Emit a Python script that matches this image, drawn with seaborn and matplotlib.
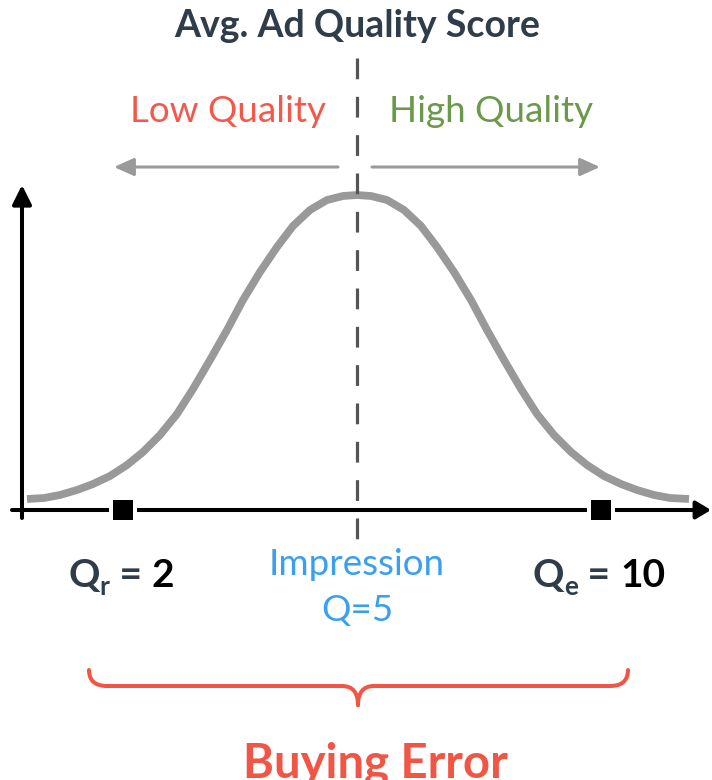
import matplotlib
matplotlib.use("Agg")
import matplotlib.pyplot as plt
from matplotlib.path import Path
from matplotlib.patches import PathPatch
import seaborn as sns

# bell curve: position along the quality axis, height above it
curve_x = [27, 44, 60, 77, 93, 110, 127, 143, 160, 177, 193, 210, 227, 243, 260,
           277, 293, 310, 327, 343, 357, 371, 387, 404, 421, 437, 454, 471, 487,
           504, 521, 537, 554, 571, 587, 604, 621, 637, 654, 670, 689]
curve_h = [11, 12, 15, 20, 26, 34, 45, 58, 75, 96, 121, 150, 180, 210, 238,
           263, 284, 300, 310, 314, 315, 314, 310, 300, 284, 263, 238, 210, 180,
           150, 121, 96, 75, 58, 45, 34, 26, 20, 15, 12, 11]

# quality points marked on the axis
point_x = [123, 601]
point_sub = ["r", "e"]
point_value = ["2", "10"]

impression_x = 357
impression_label = ["Impression", "Q=5"]

title = "Avg. Ad Quality Score"
low_label = "Low Quality"
high_label = "High Quality"
error_label = "Buying Error"

DARK = "#2e3d49"
RED = "#f5574a"
BRACE = "#f05545"
GREEN = "#6a994a"
BLUE = "#3a9ff0"
GRAY = "#999999"
DASH = "#555555"

sns.set_theme(style="white")
plt.rcParams["font.family"] = ["Lato", "DejaVu Sans"]

fig = plt.figure(figsize=(7.12, 7.80), dpi=100)
ax = fig.add_axes([0, 0, 1, 1])
ax.set_xlim(0, 712)
ax.set_ylim(-270, 510)
ax.axis("off")

# axes with arrow heads
ax.annotate("", xy=(22, 325), xytext=(22, -8),
            arrowprops=dict(arrowstyle="-|>,head_length=0.58,head_width=0.29",
                            color="black", lw=2.9, shrinkA=0, shrinkB=0,
                            mutation_scale=20))
ax.annotate("", xy=(711, 0), xytext=(12, 0),
            arrowprops=dict(arrowstyle="-|>,head_length=0.45,head_width=0.27",
                            color="black", lw=2.9, shrinkA=0, shrinkB=0,
                            mutation_scale=20))

# quality direction arrows
ax.annotate("", xy=(114, 343), xytext=(338, 343),
            arrowprops=dict(arrowstyle="-|>,head_length=0.6,head_width=0.27",
                            color="#9a9a9a", lw=2.2, shrinkA=0, shrinkB=0,
                            mutation_scale=20))
ax.annotate("", xy=(600, 343), xytext=(372, 343),
            arrowprops=dict(arrowstyle="-|>,head_length=0.6,head_width=0.27",
                            color="#9a9a9a", lw=2.2, shrinkA=0, shrinkB=0,
                            mutation_scale=20))

sns.lineplot(x=curve_x, y=curve_h, color=GRAY, lw=5.6, ax=ax,
             solid_capstyle="butt", solid_joinstyle="round", zorder=3)

ax.plot([impression_x, impression_x], [452, -35], color=DASH, lw=2.3,
        dashes=(6.5, 5.5), zorder=4)

sns.scatterplot(x=point_x, y=[0, 0], marker="s", s=420, color="white",
                edgecolor="none", ax=ax, zorder=5)
sns.scatterplot(x=point_x, y=[0, 0], marker="s", s=210, color="black",
                edgecolor="none", ax=ax, zorder=6)

ax.text(impression_x, 473, title, ha="center", va="baseline", fontsize=27,
        fontweight="bold", color=DARK)
ax.text(228, 388, low_label, ha="center", va="baseline", fontsize=26.5, color=RED)
ax.text(491, 388, high_label, ha="center", va="baseline", fontsize=26.5, color=GREEN)
ax.text(impression_x, -65, impression_label[0], ha="center", va="baseline",
        fontsize=26.5, color=BLUE)
ax.text(impression_x, -111, impression_label[1], ha="center", va="baseline",
        fontsize=26.5, color=BLUE)
ax.text(375, -268, error_label, ha="center", va="baseline", fontsize=34,
        fontweight="bold", color=BRACE)

renderer = fig.canvas.get_renderer()


def draw_parts(xc, y, parts):
    texts = []
    for s, size, color, dy in parts:
        t = ax.text(0, y + dy, s, fontsize=size, color=color, fontweight="bold",
                    ha="left", va="baseline")
        texts.append(t)
    widths = [t.get_window_extent(renderer).width for t in texts]
    x = xc - sum(widths) / 2
    for t, w in zip(texts, widths):
        t.set_x(x)
        x += w


for px, sub, val in zip(point_x, point_sub, point_value):
    draw_parts(px - 2, -77, [("Q", 28, DARK, 0), (sub, 19, DARK, -8),
                             (" = ", 28, DARK, 0), (val, 28, "black", 0)])

# brace under the axis
verts = [(89, -160), (89, -176), (107, -176), (342, -176), (358, -176), (358, -195),
         (358, -195), (358, -176), (374, -176), (610, -176), (628, -176), (628, -160)]
codes = [Path.MOVETO, Path.CURVE3, Path.CURVE3, Path.LINETO, Path.CURVE3, Path.CURVE3,
         Path.MOVETO, Path.CURVE3, Path.CURVE3, Path.LINETO, Path.CURVE3, Path.CURVE3]
ax.add_patch(PathPatch(Path(verts, codes), fill=False, edgecolor=BRACE, lw=2.9,
                       capstyle="round", joinstyle="round"))

fig.savefig("out.png", dpi=100)
